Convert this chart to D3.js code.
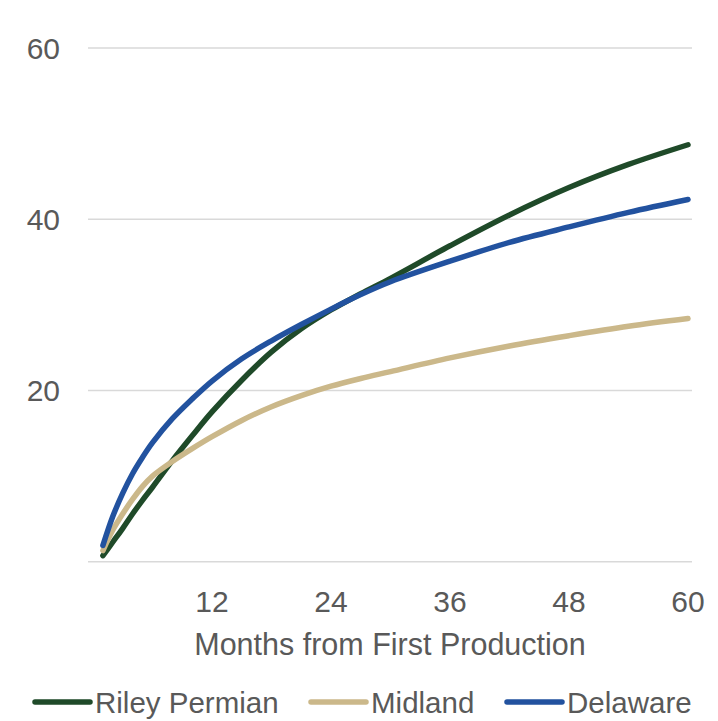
<!DOCTYPE html>
<html><head><meta charset="utf-8">
<script src="https://cdn.jsdelivr.net/npm/d3@7/dist/d3.min.js"></script>
<style>
html,body{margin:0;padding:0;background:#fff;}
text{font-family:"Liberation Sans",Arial,sans-serif;fill:#595959;}
</style></head>
<body>
<svg id="chart" width="718" height="721"></svg>
<script>
const months   = [1, 2, 3, 4, 5, 6, 8, 10, 12, 15, 18, 21, 24, 27, 30, 36, 42, 48, 54, 60];
const riley    = [0.7, 2.3, 3.9, 5.6, 7.2, 8.7, 11.8, 14.7, 17.5, 21.2, 24.5, 27.2, 29.4, 31.3, 33.1, 36.9, 40.5, 43.7, 46.4, 48.7];
const midland  = [1.3, 3.7, 5.6, 7.3, 8.8, 10.0, 11.7, 13.2, 14.6, 16.5, 18.1, 19.4, 20.5, 21.4, 22.2, 23.8, 25.2, 26.4, 27.5, 28.4];
const delaware = [1.9, 5.3, 8.0, 10.3, 12.2, 13.9, 16.7, 19.0, 21.1, 23.7, 25.8, 27.7, 29.5, 31.2, 32.7, 35.1, 37.3, 39.1, 40.8, 42.3];
const seriesNames  = ["Riley Permian", "Midland", "Delaware"];
const seriesColors = ["#1f4a29", "#cbb88a", "#22529f"];
const xTicks = [12, 24, 36, 48, 60];
const yTicks = [20, 40, 60];
const xTitle = "Months from First Production";

const svg = d3.select("#chart");
const x = d3.scaleLinear().domain([0, 60]).range([93, 688]);
const y = d3.scaleLinear().domain([0, 60]).range([561.7, 48]);

// gridlines + baseline
const gx0 = x.range()[0] - 5, gx1 = x.range()[1] + 4;
svg.append("g").selectAll("line").data([0, ...yTicks]).join("line")
  .attr("x1", gx0).attr("x2", gx1)
  .attr("y1", d => y(d)).attr("y2", d => y(d))
  .attr("stroke", "#d9d9d9").attr("stroke-width", 1.5);

// y tick labels
svg.append("g").selectAll("text").data(yTicks).join("text")
  .attr("x", 60).attr("y", d => y(d)).attr("dy", "0.36em")
  .attr("text-anchor", "end").attr("font-size", 30).text(d => d);

// x tick labels
svg.append("g").selectAll("text").data(xTicks).join("text")
  .attr("x", d => x(d)).attr("y", 612)
  .attr("text-anchor", "middle").attr("font-size", 30).text(d => d);

// x title
svg.append("text").attr("x", 390).attr("y", 655)
  .attr("text-anchor", "middle").attr("font-size", 30.5).text(xTitle);

// lines
const seriesData = [riley, midland, delaware];
const line = d3.line().x(d => x(d[0])).y(d => y(d[1])).curve(d3.curveCatmullRom.alpha(0.5));
seriesData.forEach((vals, i) => {
  svg.append("path")
    .datum(months.map((m, j) => [m, vals[j]]))
    .attr("d", line)
    .attr("fill", "none")
    .attr("stroke", seriesColors[i])
    .attr("stroke-width", 5.5)
    .attr("stroke-linecap", "round")
    .attr("stroke-linejoin", "round");
});

// legend
const legend = svg.append("g");
const legendStarts = [35, 311, 507];
seriesNames.forEach((name, i) => {
  const g = legend.append("g").attr("transform", `translate(${legendStarts[i]},702)`);
  g.append("line").attr("x1", 0).attr("x2", 55).attr("y1", 0).attr("y2", 0)
    .attr("stroke", seriesColors[i]).attr("stroke-width", 5.5).attr("stroke-linecap", "round");
  g.append("text").attr("x", 60).attr("y", 0).attr("dy", "0.36em")
    .attr("font-size", 29.5).text(name);
});
</script>
</body></html>
